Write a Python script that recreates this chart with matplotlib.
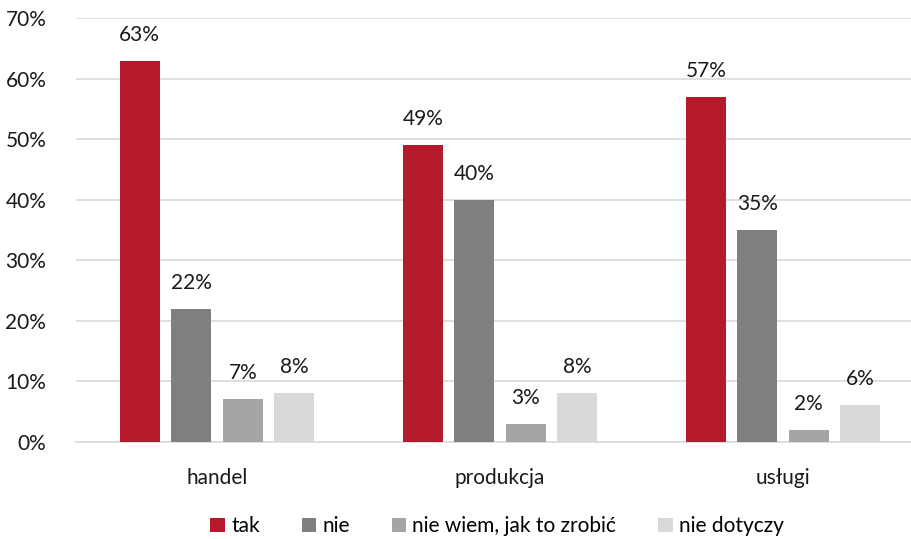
import numpy as np
import matplotlib.pyplot as plt
from matplotlib.ticker import PercentFormatter

plt.rcParams['font.family'] = ['Lato', 'DejaVu Sans']

categories = ['handel', 'produkcja', 'usługi']
series_names = ['tak', 'nie', 'nie wiem, jak to zrobić', 'nie dotyczy']
tak = [63, 49, 57]
nie = [22, 40, 35]
nie_wiem = [7, 3, 2]
nie_dotyczy = [8, 8, 6]
colors = ['#B41A2B', '#7F7F7F', '#A5A5A5', '#D9D9D9']

values = [tak, nie, nie_wiem, nie_dotyczy]

fig = plt.figure(figsize=(9.12, 5.39), dpi=100)
ax = fig.add_axes([0.0828, 0.1805, 0.931, 0.7857])

x = np.arange(len(categories))
step = 0.182
width = 0.141
for i, (name, vals, col) in enumerate(zip(series_names, values, colors)):
    pos = x + (i - 1.5) * step
    bars = ax.bar(pos, vals, width, color=col, label=name, zorder=3)
    for b, v in zip(bars, vals):
        ax.text(b.get_x() + b.get_width() / 2, v + 4.3, f'{v}%',
                ha='center', va='center', fontsize=15, color='#1a1a1a')

ax.set_xlim(-0.5, 2.5)
ax.set_ylim(0, 70)
ax.set_yticks(range(0, 71, 10))
ax.yaxis.set_major_formatter(PercentFormatter(decimals=0))
ax.set_xticks(x)
ax.set_xticklabels(categories)
ax.tick_params(axis='both', length=0, labelsize=15, colors='#1a1a1a')
ax.tick_params(axis='y', pad=21)
ax.tick_params(axis='x', pad=19)
ax.grid(axis='y', color='#D9D9D9', linewidth=1.2, zorder=0)
for s in ['top', 'right', 'left']:
    ax.spines[s].set_visible(False)
ax.spines['bottom'].set_color('#D9D9D9')
ax.spines['bottom'].set_linewidth(1.2)

fig.legend(loc='lower center', bbox_to_anchor=(0.545, -0.03), ncol=4,
           frameon=False, fontsize=15, handlelength=0.7, handleheight=0.7,
           handletextpad=0.3, columnspacing=2.0)

fig.savefig('out.png', dpi=100)
